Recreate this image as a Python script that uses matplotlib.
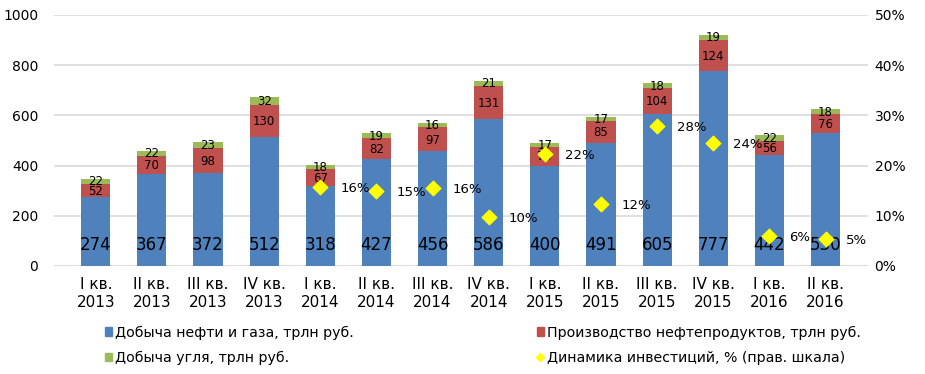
import matplotlib
matplotlib.use("Agg")
import matplotlib.pyplot as plt
from matplotlib.patches import Patch
from matplotlib.lines import Line2D
import numpy as np

categories = ["I кв.\n2013", "II кв.\n2013", "III кв.\n2013", "IV кв.\n2013",
              "I кв.\n2014", "II кв.\n2014", "III кв.\n2014", "IV кв.\n2014",
              "I кв.\n2015", "II кв.\n2015", "III кв.\n2015", "IV кв.\n2015",
              "I кв.\n2016", "II кв.\n2016"]
oil_gas = [274, 367, 372, 512, 318, 427, 456, 586, 400, 491, 605, 777, 442, 530]
refining = [52, 70, 98, 130, 67, 82, 97, 131, 74, 85, 104, 124, 56, 76]
coal = [22, 22, 23, 32, 18, 19, 16, 21, 17, 17, 18, 19, 22, 18]
inv_idx = [4, 5, 6, 7, 8, 9, 10, 11, 12, 13]
inv_vals = [15.7, 14.9, 15.6, 9.8, 22.2, 12.4, 27.9, 24.4, 5.9, 5.3]
inv_labels = ["16%", "15%", "16%", "10%", "22%", "12%", "28%", "24%", "6%", "5%"]

names = ["Добыча нефти и газа, трлн руб.", "Производство нефтепродуктов, трлн руб.",
         "Добыча угля, трлн руб.", "Динамика инвестиций, % (прав. шкала)"]

blue, red, green, yellow = "#4F81BD", "#C0504D", "#9BBB59", "#FFFF00"
narrow = ["DejaVu Sans Condensed", "DejaVu Sans"]

fig = plt.figure(figsize=(9.25, 3.74), dpi=100)
ax = fig.add_axes([0.058, 0.289, 0.880, 0.671])
x = np.arange(len(categories))
w = 0.52
og = np.array(oil_gas); rf = np.array(refining); cl = np.array(coal)
ax.bar(x, og, w, color=blue, zorder=2)
ax.bar(x, rf, w, bottom=og, color=red, zorder=2)
ax.bar(x, cl, w, bottom=og + rf, color=green, zorder=2)

for i in range(len(x)):
    ax.text(x[i], 85, str(oil_gas[i]), ha="center", va="center", fontsize=12,
            family="DejaVu Sans", zorder=4)
    ax.text(x[i], og[i] + rf[i] / 2 - 3, str(refining[i]), ha="center", va="center",
            fontsize=8.5, family="DejaVu Sans", zorder=4)
    ax.text(x[i], og[i] + rf[i] + cl[i] / 2 - 2, str(coal[i]), ha="center", va="center",
            fontsize=8.5, family="DejaVu Sans", zorder=4)

ax.set_xlim(-0.75, len(x) - 0.25)
ax.set_ylim(0, 1000)
ax.set_yticks(np.arange(0, 1001, 200))
ax.set_xticks(x)
ax.set_xticklabels(categories, fontsize=11, family=narrow, linespacing=1.25)
ax.tick_params(axis="both", length=0)
ax.tick_params(axis="x", pad=8)
ax.tick_params(axis="y", labelsize=10, pad=11)
ax.grid(axis="y", color="#D9D9D9", linewidth=1.2, zorder=0)
for s in ax.spines.values():
    s.set_visible(False)
ax.axhline(0, color="#D9D9D9", linewidth=1.2, zorder=1)

ax2 = ax.twinx()
ax2.set_ylim(0, 50)
ax2.set_yticks(np.arange(0, 51, 10))
ax2.set_yticklabels([f"{v}%" for v in range(0, 51, 10)])
ax2.tick_params(axis="y", length=0, labelsize=10, pad=5)
for s in ax2.spines.values():
    s.set_visible(False)
ax2.scatter(inv_idx, inv_vals, marker="D", s=55, color=yellow, zorder=5)
for xi, v, lab in zip(inv_idx, inv_vals, inv_labels):
    ax2.text(xi + 0.36, v - 0.3, lab, ha="left", va="center", fontsize=9.5,
             family="DejaVu Sans", zorder=6)

handles = [Patch(color=blue), Patch(color=green), Patch(color=red),
           Line2D([], [], marker="D", color=yellow, linestyle="none", markersize=4)]
labels = [names[0], names[2], names[1], names[3]]
fig.legend(handles, labels, ncol=2, loc="lower left", bbox_to_anchor=(0.1, -0.01),
           frameon=False, prop={"family": narrow, "size": 10.2},
           handlelength=0.5, handleheight=0.5, handletextpad=0.2,
           columnspacing=12.9, labelspacing=0.8)

fig.savefig("out.png", dpi=100)
